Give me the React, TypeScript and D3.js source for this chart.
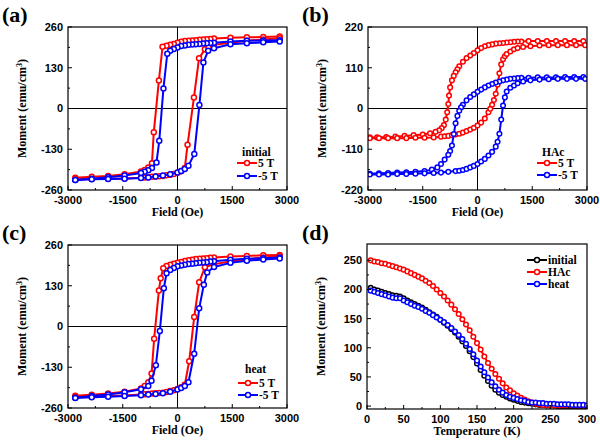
import React from 'react';
import * as d3 from 'd3';

type Pt = [number, number];

// ---------- tick definitions ----------
const fieldTicks = [-3000, -1500, 0, 1500, 3000];
const fieldMinor = [-2250, -750, 750, 2250];
const momentTicksAC = [-260, -130, 0, 130, 260];
const momentMinorAC = [-195, -65, 65, 195];
const momentTicksB = [-220, -110, 0, 110, 220];
const momentMinorB = [-165, -55, 55, 165];
const tempTicks = [0, 50, 100, 150, 200, 250, 300];
const tempMinor = [25, 75, 125, 175, 225, 275];
const momentTicksD = [0, 50, 100, 150, 200, 250];
const momentMinorD = [25, 75, 125, 175, 225];

// ---------- panel (a) initial ----------
const aRedDown: Pt[] = [[2800,230],[2350,228],[1900,227],[1450,226],[1000,223],[900,222],[800,221],[700,220],[600,219],[500,218],[400,217],[300,216],[200,215],[100,213],[0,210],[-100,206],[-200,203],[-300,200],[-410,197],[-510,89],[-650,-76],[-700,-175],[-800,-188],[-900,-196],[-1000,-201],[-1450,-210],[-1900,-215],[-2350,-218],[-2800,-221]];
const aRedUp: Pt[] = [[-2800,-226],[-2350,-225],[-1900,-224],[-1450,-223],[-1000,-221],[-900,-220],[-800,-219],[-700,-218],[-600,-217],[-500,-216],[-400,-215],[-300,-213],[-200,-211],[-100,-209],[0,-205],[100,-200],[200,-190],[275,-116],[450,35],[590,160],[750,189],[850,195],[1000,203],[1450,210],[1900,216],[2350,220],[2800,224]];
const aBlueDown: Pt[] = [[2800,218],[2350,217],[1900,216],[1450,214],[1000,210],[900,209],[800,208],[700,207],[600,206],[500,205],[400,204],[300,203],[200,201],[100,199],[0,195],[-100,190],[-200,184],[-280,175],[-385,64],[-500,-103],[-575,-172],[-700,-190],[-800,-197],[-900,-202],[-1000,-206],[-1450,-214],[-1900,-219],[-2350,-224],[-2800,-228]];
const aBlueUp: Pt[] = [[-2800,-228],[-2350,-226],[-1900,-225],[-1450,-224],[-1000,-222],[-800,-220],[-600,-217],[-400,-214],[-200,-210],[0,-204],[100,-199],[200,-193],[300,-183],[460,-145],[600,11],[710,147],[840,184],[1000,192],[1450,205],[1900,208],[2350,211],[2800,214]];

// ---------- panel (b) HAc ----------
const bRedDown: Pt[] = [[2900,182],[2650,182],[2400,182],[2150,182],[1900,182],[1650,182],[1400,182],[1200,181],[1100,181],[1000,180],[900,179],[800,178],[700,177],[600,176],[500,175],[400,173],[300,171],[200,168],[100,163],[0,157],[-100,150],[-200,143],[-300,136],[-400,126],[-500,114],[-550,106],[-600,98],[-650,88],[-700,76],[-750,57],[-780,35],[-800,12],[-830,-10],[-870,-30],[-920,-45],[-980,-53],[-1050,-59],[-1150,-63],[-1300,-67],[-1500,-70],[-1750,-72],[-2000,-74],[-2250,-76],[-2500,-77],[-2750,-78],[-2950,-78]];
const bRedUp: Pt[] = [[-2950,-80],[-2700,-80],[-2450,-80],[-2200,-80],[-1950,-80],[-1700,-79],[-1450,-79],[-1200,-78],[-1000,-76],[-900,-75],[-800,-74],[-700,-72],[-600,-70],[-500,-68],[-400,-65],[-300,-61],[-200,-57],[-100,-52],[0,-46],[100,-38],[200,-27],[300,-10],[350,-1],[400,10],[450,23],[500,40],[550,64],[600,95],[650,119],[700,133],[750,141],[800,147],[900,154],[1000,160],[1100,163],[1250,166],[1450,168],[1700,170],[1950,171],[2200,171],[2450,171],[2700,171],[2950,171]];
const bBlueDown: Pt[] = [[2900,85],[2650,85],[2400,85],[2150,84],[1900,84],[1650,84],[1400,83],[1200,83],[1100,82],[1000,81],[900,80],[800,78],[700,76],[600,73],[500,70],[400,66],[300,62],[200,57],[100,51],[0,45],[-100,38],[-200,31],[-300,22],[-400,10],[-450,3],[-500,-6],[-550,-20],[-600,-40],[-650,-69],[-700,-100],[-750,-115],[-800,-125],[-900,-138],[-1000,-150],[-1100,-159],[-1250,-165],[-1450,-169],[-1700,-171],[-1950,-172],[-2200,-173],[-2450,-174],[-2700,-175],[-2950,-176]];
const bBlueUp: Pt[] = [[-2950,-178],[-2700,-178],[-2450,-178],[-2200,-177],[-1950,-177],[-1700,-176],[-1450,-175],[-1200,-174],[-1000,-173],[-800,-171],[-600,-169],[-500,-168],[-400,-166],[-300,-163],[-200,-159],[-100,-155],[0,-150],[100,-143],[200,-136],[300,-127],[400,-117],[500,-103],[550,-90],[600,-68],[650,-30],[700,8],[750,30],[800,46],[900,56],[1000,62],[1100,68],[1250,73],[1450,76],[1700,78],[1950,79],[2200,80],[2450,80],[2700,80],[2950,80]];

// ---------- panel (c) heat ----------
const cRedDown: Pt[] = [[2800,228],[2350,227],[1900,225],[1450,223],[1000,220],[900,219],[800,218],[700,217],[600,216],[500,215],[400,213],[300,211],[200,209],[100,206],[0,203],[-100,200],[-200,197],[-300,193],[-390,186],[-460,154],[-510,115],[-640,-39],[-710,-150],[-800,-178],[-900,-190],[-1000,-198],[-1450,-208],[-1900,-214],[-2350,-218],[-2800,-221]];
const cRedUp: Pt[] = [[-2800,-225],[-2350,-224],[-1900,-222],[-1450,-220],[-1000,-217],[-900,-216],[-800,-215],[-700,-214],[-600,-213],[-500,-212],[-400,-211],[-300,-209],[-200,-206],[-100,-203],[0,-199],[100,-194],[200,-186],[320,-111],[457,30],[594,141],[750,189],[1000,199],[1450,207],[1900,214],[2350,220],[2800,224]];
const cBlueDown: Pt[] = [[2800,220],[2350,218],[1900,216],[1450,213],[1000,208],[900,207],[800,205],[700,204],[600,203],[500,202],[400,200],[300,199],[200,197],[100,195],[0,192],[-100,187],[-200,180],[-300,170],[-374,122],[-484,-14],[-593,-124],[-712,-173],[-800,-190],[-1000,-200],[-1450,-210],[-1900,-217],[-2350,-222],[-2800,-227]];
const cBlueUp: Pt[] = [[-2800,-228],[-2350,-226],[-1900,-224],[-1450,-222],[-1000,-219],[-800,-217],[-600,-215],[-400,-213],[-200,-208],[0,-201],[100,-196],[200,-190],[300,-178],[457,-87],[594,58],[721,133],[813,172],[1000,190],[1450,203],[1900,210],[2350,214],[2800,217]];

// ---------- panel (d) M(T) ----------
const temps = [5,10,15,20,25,30,35,40,45,50,55,60,65,70,75,80,85,90,95,100,105,110,115,120,125,130,135,140,145,150,155,160,165,170,175,180,185,190,195,200,205,210,215,220,225,230,235,240,245,250,255,260,265,270,275,280,285,290,295,300];
const initialM = [203,200,198,196,194,192,190,189,188,185,181,178,175,172,169,165,161,157,153,148,143,138,132,126,119,111,103,94,84,73,62,52,43,35,28,23,19,16,13,11,9,7,6,5,4,3,2,2,1,1,1,0,0,0,0,0,0,0,-1,-1];
const hacM = [250,248,247,245,244,242,240,238,236,234,231,228,225,222,219,215,211,206,200,194,188,181,174,166,158,149,140,130,119,108,97,85,74,64,55,47,39,32,27,22,18,14,11,8,6,4,3,2,2,1,1,1,1,1,1,1,1,1,1,1];
const heatM = [198,196,194,192,190,188,186,185,185,181,178,175,172,170,167,163,160,156,152,148,144,139,134,128,122,115,107,98,89,78,68,58,49,41,34,28,23,19,16,14,12,10,9,7,6,6,5,5,4,4,4,3,3,3,3,2,2,2,2,1];

const RED = '#ff0000';
const BLUE = '#0000ff';
const BLACK = '#000000';

const SANS = 'Liberation Sans, Arial, sans-serif';
const SERIF = 'Liberation Serif, Times New Roman, serif';

type Series = { data: Pt[]; color: string };
type LegendItem = { label: string; color: string };

interface PanelProps {
  box: { l: number; r: number; t: number; b: number };
  xDomain: [number, number];
  yDomain: [number, number];
  xTicks: number[];
  xMinor: number[];
  yTicks: number[];
  yMinor: number[];
  zeroLines: boolean;
  series: Series[];
  letter: string;
  letterPos: [number, number];
  xTitle: string;
  legend: { title?: string; titlePos?: [number, number]; x: number; ys: number[]; items: LegendItem[] };
  markerR: number;
}

function Panel(p: PanelProps) {
  const { box } = p;
  const x = d3.scaleLinear().domain(p.xDomain).range([box.l, box.r]);
  const y = d3.scaleLinear().domain(p.yDomain).range([box.b, box.t]);
  const line = d3.line<Pt>().x(d => x(d[0])).y(d => y(d[1]));
  const clipId = 'clip-' + p.letter.replace(/[()]/g, '');
  const yMid = (box.t + box.b) / 2;
  const xMid = (box.l + box.r) / 2;
  return (
    <g>
      <defs>
        <clipPath id={clipId}>
          <rect x={box.l} y={box.t} width={box.r - box.l} height={box.b - box.t} />
        </clipPath>
      </defs>
      <text x={p.letterPos[0]} y={p.letterPos[1]} fontFamily={SERIF} fontWeight="bold" fontSize={22}>{p.letter}</text>
      {p.zeroLines && (
        <g stroke="#000" strokeWidth={1}>
          <line x1={box.l} x2={box.r} y1={y(0)} y2={y(0)} />
          <line x1={x(0)} x2={x(0)} y1={box.t} y2={box.b} />
        </g>
      )}
      <g clipPath={`url(#${clipId})`}>
        {p.series.map((s, i) => (
          <g key={i}>
            <path d={line(s.data) || ''} fill="none" stroke={s.color} strokeWidth={2} />
            {s.data.map((d, j) => (
              <circle key={j} cx={x(d[0])} cy={y(d[1])} r={p.markerR} fill="#fff" stroke={s.color} strokeWidth={1.5} />
            ))}
          </g>
        ))}
      </g>
      <rect x={box.l} y={box.t} width={box.r - box.l} height={box.b - box.t} fill="none" stroke="#000" strokeWidth={1.2} />
      <g stroke="#000" strokeWidth={1}>
        {p.xTicks.map(t => <line key={'xt' + t} x1={x(t)} x2={x(t)} y1={box.b} y2={box.b - 4} />)}
        {p.xMinor.map(t => <line key={'xm' + t} x1={x(t)} x2={x(t)} y1={box.b} y2={box.b - 2} />)}
        {p.yTicks.map(t => <line key={'yt' + t} x1={box.l} x2={box.l + 4} y1={y(t)} y2={y(t)} />)}
        {p.yMinor.map(t => <line key={'ym' + t} x1={box.l} x2={box.l + 2} y1={y(t)} y2={y(t)} />)}
      </g>
      <g fontFamily={SANS} fontWeight="bold" fontSize={11} fill="#000">
        {p.xTicks.map(t => (
          <text key={'xl' + t} x={x(t)} y={box.b + 14} textAnchor="middle">{t}</text>
        ))}
        {p.yTicks.map(t => (
          <text key={'yl' + t} x={box.l - 5} y={y(t)} dy="0.36em" textAnchor="end">{t}</text>
        ))}
      </g>
      <text x={xMid} y={box.b + 26} textAnchor="middle" fontFamily={SERIF} fontWeight="bold" fontSize={12}>{p.xTitle}</text>
      <text transform={`translate(${box.l - 42},${yMid}) rotate(-90)`} textAnchor="middle" fontFamily={SERIF} fontWeight="bold" fontSize={12}>
        Moment (emu/cm<tspan dy="-4" fontSize={8}>3</tspan><tspan dy="4">)</tspan>
      </text>
      <g fontFamily={SERIF} fontWeight="bold" fontSize={11.5}>
        {p.legend.title && p.legend.titlePos && (
          <text x={p.legend.titlePos[0]} y={p.legend.titlePos[1]}>{p.legend.title}</text>
        )}
        {p.legend.items.map((it, i) => (
          <g key={i}>
            <line x1={p.legend.x} x2={p.legend.x + 20} y1={p.legend.ys[i]} y2={p.legend.ys[i]} stroke={it.color} strokeWidth={2} />
            <circle cx={p.legend.x + 10} cy={p.legend.ys[i]} r={2.5} fill="#fff" stroke={it.color} strokeWidth={1.5} />
            <text x={p.legend.x + 21} y={p.legend.ys[i]} dy="0.35em">{it.label}</text>
          </g>
        ))}
      </g>
    </g>
  );
}

export default function App() {
  const loopLegend: LegendItem[] = [
    { label: '5 T', color: RED },
    { label: '-5 T', color: BLUE },
  ];
  const toPts = (vals: number[]): Pt[] => temps.map((t, i) => [t, vals[i]] as Pt);
  return (
    <svg width={600} height={441} style={{ position: 'absolute', left: 0, top: 0, background: '#fff' }}>
      <rect x={0} y={0} width={600} height={441} fill="#fff" />
      <Panel
        box={{ l: 68, r: 287, t: 27, b: 190 }}
        xDomain={[-3000, 3000]} yDomain={[-260, 260]}
        xTicks={fieldTicks} xMinor={fieldMinor} yTicks={momentTicksAC} yMinor={momentMinorAC}
        zeroLines
        series={[{ data: aRedDown, color: RED }, { data: aRedUp, color: RED }, { data: aBlueDown, color: BLUE }, { data: aBlueUp, color: BLUE }]}
        letter="(a)" letterPos={[2, 22]} xTitle="Field (Oe)"
        legend={{ title: 'initial', titlePos: [242, 156], x: 237, ys: [163, 176], items: loopLegend }}
        markerR={2.5}
      />
      <Panel
        box={{ l: 368, r: 587, t: 27, b: 190 }}
        xDomain={[-3000, 3000]} yDomain={[-220, 220]}
        xTicks={fieldTicks} xMinor={fieldMinor} yTicks={momentTicksB} yMinor={momentMinorB}
        zeroLines
        series={[{ data: bRedDown, color: RED }, { data: bRedUp, color: RED }, { data: bBlueDown, color: BLUE }, { data: bBlueUp, color: BLUE }]}
        letter="(b)" letterPos={[302, 22]} xTitle="Field (Oe)"
        legend={{ title: 'HAc', titlePos: [542, 156], x: 537, ys: [163, 175], items: loopLegend }}
        markerR={2.3}
      />
      <Panel
        box={{ l: 68, r: 287, t: 245, b: 408 }}
        xDomain={[-3000, 3000]} yDomain={[-260, 260]}
        xTicks={fieldTicks} xMinor={fieldMinor} yTicks={momentTicksAC} yMinor={momentMinorAC}
        zeroLines
        series={[{ data: cRedDown, color: RED }, { data: cRedUp, color: RED }, { data: cBlueDown, color: BLUE }, { data: cBlueUp, color: BLUE }]}
        letter="(c)" letterPos={[2, 240]} xTitle="Field (Oe)"
        legend={{ title: 'heat', titlePos: [245, 373], x: 238, ys: [383, 395], items: loopLegend }}
        markerR={2.5}
      />
      <Panel
        box={{ l: 367, r: 587, t: 244, b: 409 }}
        xDomain={[0, 300]} yDomain={[-5, 278]}
        xTicks={tempTicks} xMinor={tempMinor} yTicks={momentTicksD} yMinor={momentMinorD}
        zeroLines={false}
        series={[{ data: toPts(initialM), color: BLACK }, { data: toPts(hacM), color: RED }, { data: toPts(heatM), color: BLUE }]}
        letter="(d)" letterPos={[302, 240]} xTitle="Temperature (K)"
        legend={{ x: 527, ys: [260, 272, 284], items: [{ label: 'initial', color: BLACK }, { label: 'HAc', color: RED }, { label: 'heat', color: BLUE }] }}
        markerR={2.3}
      />
    </svg>
  );
}
